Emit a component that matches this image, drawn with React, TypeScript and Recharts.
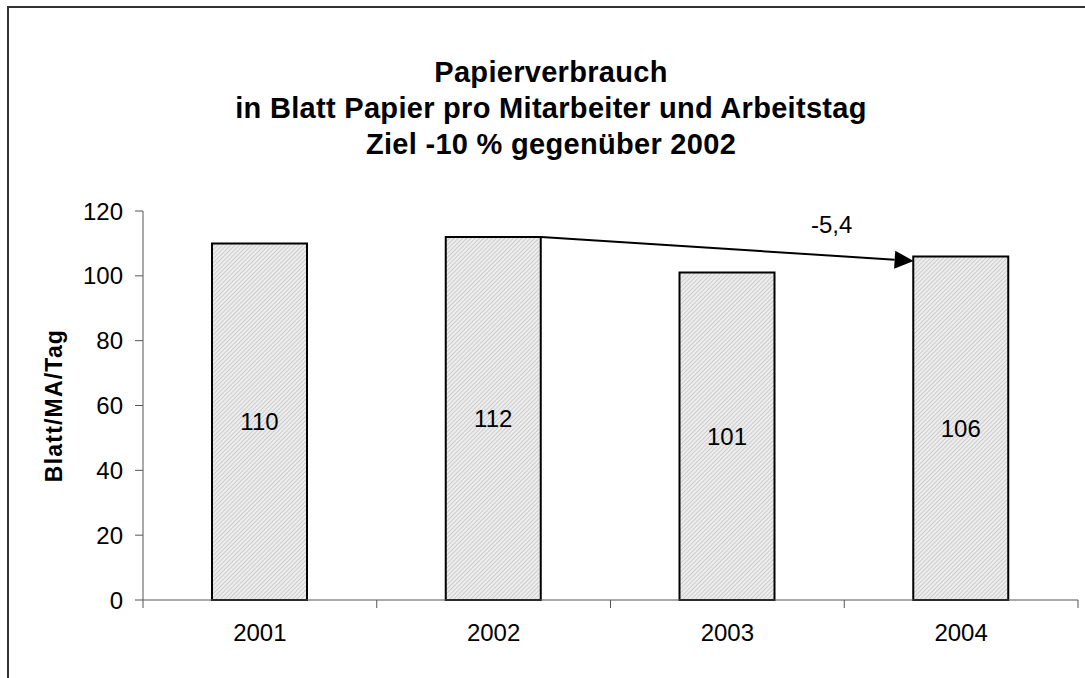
import { BarChart, Bar, XAxis, YAxis, LabelList, Label, ReferenceLine } from "recharts";

const years = ["2001", "2002", "2003", "2004"];
const sheets = [110, 112, 101, 106];
const yTicks = [0, 20, 40, 60, 80, 100, 120];
const titleLines = [
  "Papierverbrauch",
  "in Blatt Papier pro Mitarbeiter und Arbeitstag",
  "Ziel -10 % gegenüber 2002",
];
const yLabel = "Blatt/MA/Tag";
const arrowFrom = { year: "2002", value: 112 };
const arrowTo = { year: "2004", value: 104.6 };
const arrowText = "-5,4";

const data = years.map((year, i) => ({ year, sheets: sheets[i] }));

const FONT = "'Liberation Sans', Arial, Helvetica, sans-serif";
const BAR_SIZE = 95;
const AXIS = "#555";
const FS = 24;

function XTick(props: any) {
  const { x, y, payload, index } = props;
  const half = payload?.offset ?? 0;
  return (
    <g>
      <line x1={x - half} y1={y} x2={x - half} y2={y + 8} stroke={AXIS} />
      {index === years.length - 1 && (
        <line x1={x + half} y1={y} x2={x + half} y2={y + 8} stroke={AXIS} />
      )}
      <text x={x} y={y + 24} dy="0.71em" textAnchor="middle" fontSize={FS} fill="#000" fontFamily={FONT}>
        {payload.value}
      </text>
    </g>
  );
}

function Arrow(props: any) {
  const { x1, y1, x2, y2 } = props;
  const sx = x1 + BAR_SIZE / 2;
  const ex = x2 - BAR_SIZE / 2;
  const ang = Math.atan2(y2 - y1, ex - sx);
  const len = 19;
  const w = 9;
  const bx = ex - len * Math.cos(ang);
  const by = y2 - len * Math.sin(ang);
  const px = -Math.sin(ang) * w;
  const py = Math.cos(ang) * w;
  const t = 0.78;
  return (
    <g>
      <line x1={sx} y1={y1} x2={bx} y2={by} stroke="#000" strokeWidth={2} />
      <polygon points={`${ex},${y2} ${bx + px},${by + py} ${bx - px},${by - py}`} fill="#000" />
      <text
        x={sx + t * (ex - sx)}
        y={y1 + t * (y2 - y1) - 31}
        dy="0.36em"
        textAnchor="middle"
        fontSize={FS}
        fill="#000"
        fontFamily={FONT}
      >
        {arrowText}
      </text>
    </g>
  );
}

function YLabel(props: any) {
  const { viewBox } = props;
  const x = viewBox.x + 42;
  const y = viewBox.y + viewBox.height / 2;
  return (
    <text
      x={x}
      y={y}
      transform={`rotate(-90, ${x}, ${y})`}
      textAnchor="middle"
      fontSize={23}
      fontWeight="bold"
      letterSpacing={1.2}
      fill="#000"
      fontFamily={FONT}
    >
      {yLabel}
    </text>
  );
}

export default function App() {
  return (
    <div style={{ position: "absolute", left: 0, top: 0, width: 1085, height: 678, background: "#fff", fontFamily: FONT }}>
      <div
        style={{
          position: "absolute",
          left: 7,
          top: 6,
          width: 1078,
          height: 672,
          borderTop: "2px solid #333",
          borderLeft: "2px solid #333",
          boxSizing: "border-box",
        }}
      />
      <div
        style={{
          position: "absolute",
          left: 51,
          top: 54,
          width: 1000,
          textAlign: "center",
          fontSize: 29,
          fontWeight: "bold",
          lineHeight: "36px",
          letterSpacing: 0.3,
          color: "#000",
        }}
      >
        {titleLines.map((l) => (
          <div key={l}>{l}</div>
        ))}
      </div>
      <div style={{ position: "absolute", left: 0, top: 0 }}>
        <BarChart width={1085} height={678} data={data} margin={{ top: 211, right: 7, bottom: 18, left: 20 }}>
          <defs>
            <pattern id="hatch" width="3" height="3" patternUnits="userSpaceOnUse" patternTransform="rotate(45)">
              <rect width="3" height="3" fill="#ededed" />
              <line x1="0" y1="0" x2="0" y2="3" stroke="#bcbcbc" strokeWidth={1.3} />
            </pattern>
          </defs>
          <XAxis
            dataKey="year"
            height={60}
            axisLine={{ stroke: AXIS }}
            tickLine={false}
            tickSize={0}
            tickMargin={0}
            tick={<XTick />}
            interval={0}
          />
          <YAxis
            width={123}
            domain={[0, 120]}
            ticks={yTicks}
            axisLine={{ stroke: AXIS }}
            tickLine={{ stroke: AXIS }}
            tickSize={8}
            tickMargin={12}
            tick={{ fontSize: FS, fill: "#000", fontFamily: FONT }}
            label={<Label content={<YLabel />} />}
          />
          <Bar dataKey="sheets" barSize={BAR_SIZE} fill="url(#hatch)" stroke="#000" strokeWidth={2} isAnimationActive={false}>
            <LabelList dataKey="sheets" position="center" fontSize={FS} fill="#000" fontFamily={FONT} />
          </Bar>
          <ReferenceLine
            segment={[
              { x: arrowFrom.year, y: arrowFrom.value },
              { x: arrowTo.year, y: arrowTo.value },
            ]}
            shape={<Arrow />}
          />
        </BarChart>
      </div>
    </div>
  );
}
